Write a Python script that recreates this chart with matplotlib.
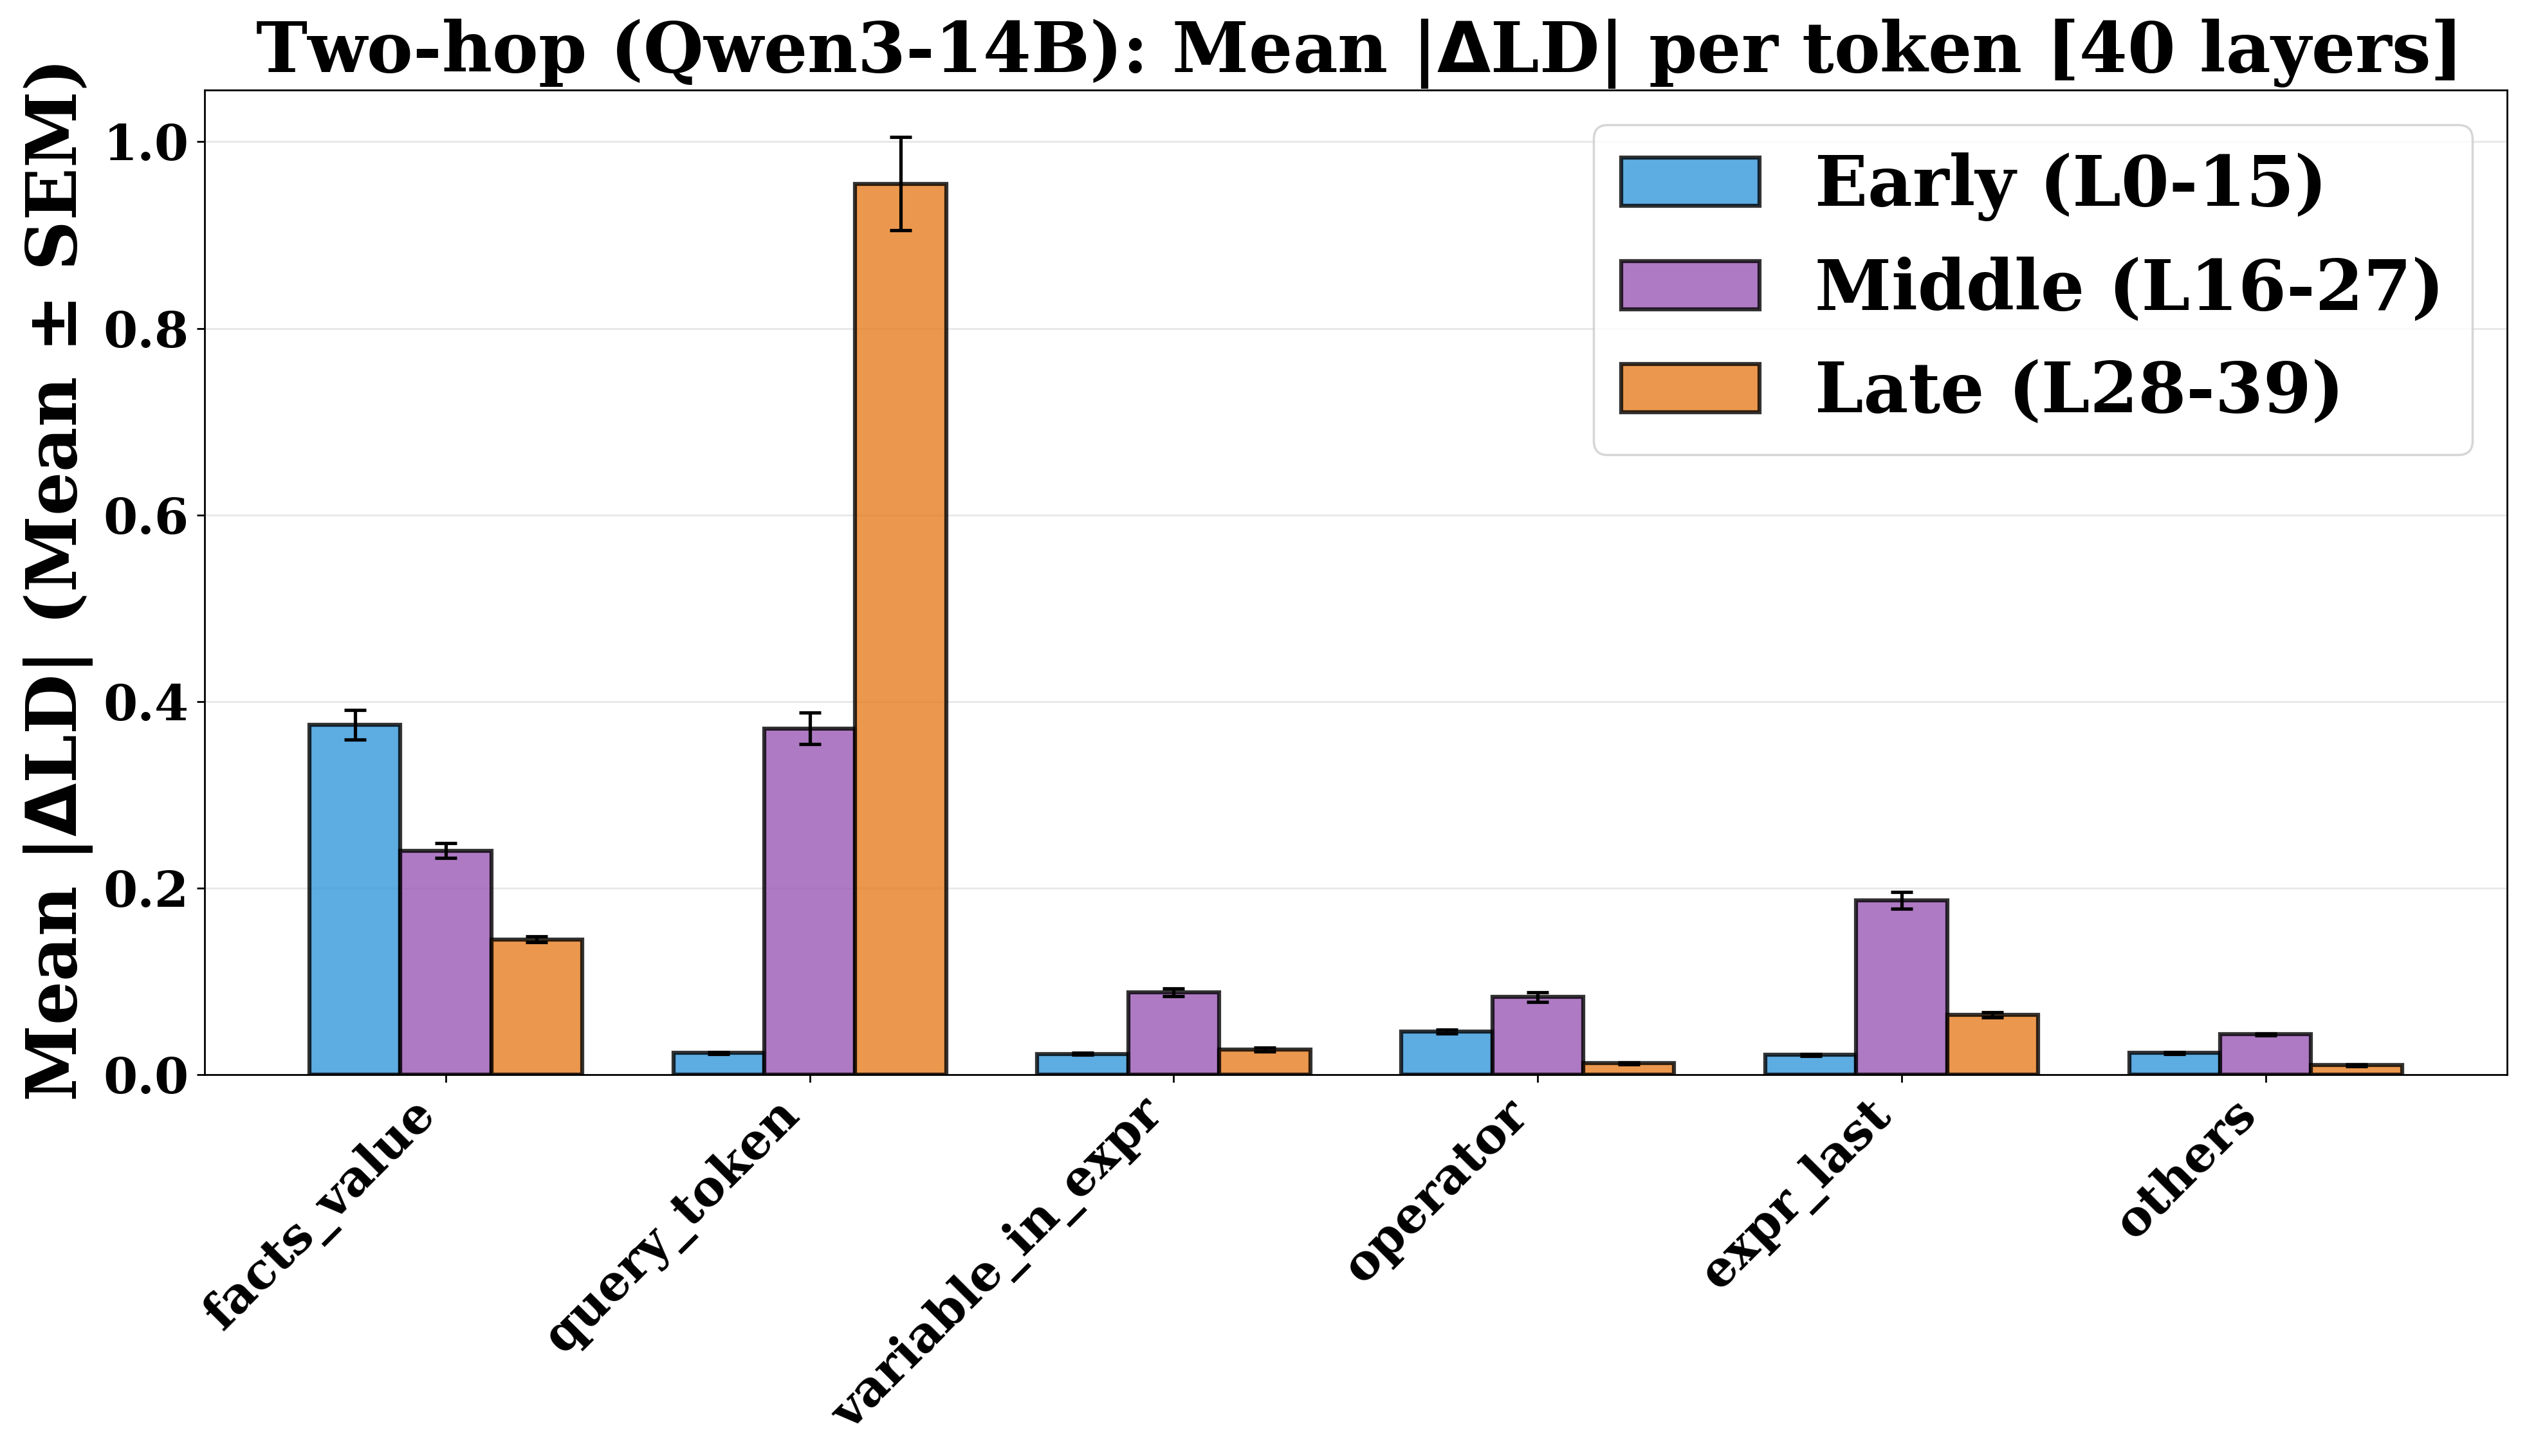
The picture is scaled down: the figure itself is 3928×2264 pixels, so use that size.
import numpy as np
import matplotlib
matplotlib.use("Agg")
import matplotlib.pyplot as plt

plt.rcParams['font.family'] = 'DejaVu Serif'
plt.rcParams['font.weight'] = 'bold'

# Datos
categories = ['facts_value', 'query_token', 'variable_in_expr', 'operator', 'expr_last', 'others']
groups = ['Early (L0-15)', 'Middle (L16-27)', 'Late (L28-39)']
early = [0.375, 0.023, 0.022, 0.046, 0.021, 0.023]
early_sem = [0.016, 0.001, 0.001, 0.002, 0.001, 0.001]
middle = [0.240, 0.371, 0.088, 0.083, 0.187, 0.043]
middle_sem = [0.008, 0.017, 0.004, 0.005, 0.009, 0.001]
late = [0.145, 0.955, 0.027, 0.012, 0.064, 0.010]
late_sem = [0.003, 0.050, 0.002, 0.001, 0.003, 0.001]

colors = ['#3498db', '#9b59b6', '#e67e22']

x = np.arange(len(categories))
width = 0.25

fig, ax = plt.subplots(figsize=(15.712, 9.056), dpi=250)

series = [(early, early_sem), (middle, middle_sem), (late, late_sem)]
for i, (vals, sems) in enumerate(series):
    ax.bar(x + (i - 1) * width, vals, width, yerr=sems, capsize=5,
           color=colors[i], alpha=0.8, edgecolor='black', linewidth=1.8,
           label=groups[i], error_kw={'elinewidth': 1.5, 'capthick': 1.5})

ax.set_xticks(x)
ax.set_xticklabels(categories, rotation=45, ha='right', fontsize=22, fontweight='bold')
ax.tick_params(axis='y', labelsize=22)
ax.set_ylabel(r'Mean |$\Delta$LD| (Mean ± SEM)', fontsize=31, fontweight='bold')
ax.set_title(r'Two-hop (Qwen3-14B): Mean |$\Delta$LD| per token [40 layers]', fontsize=31, fontweight='bold')
ax.legend(fontsize=31, loc='upper right')
ax.grid(axis='y', alpha=0.3)
ax.set_axisbelow(True)

plt.subplots_adjust(left=0.081, right=0.992, top=0.938, bottom=0.262)
plt.savefig('out.png', dpi=250)
